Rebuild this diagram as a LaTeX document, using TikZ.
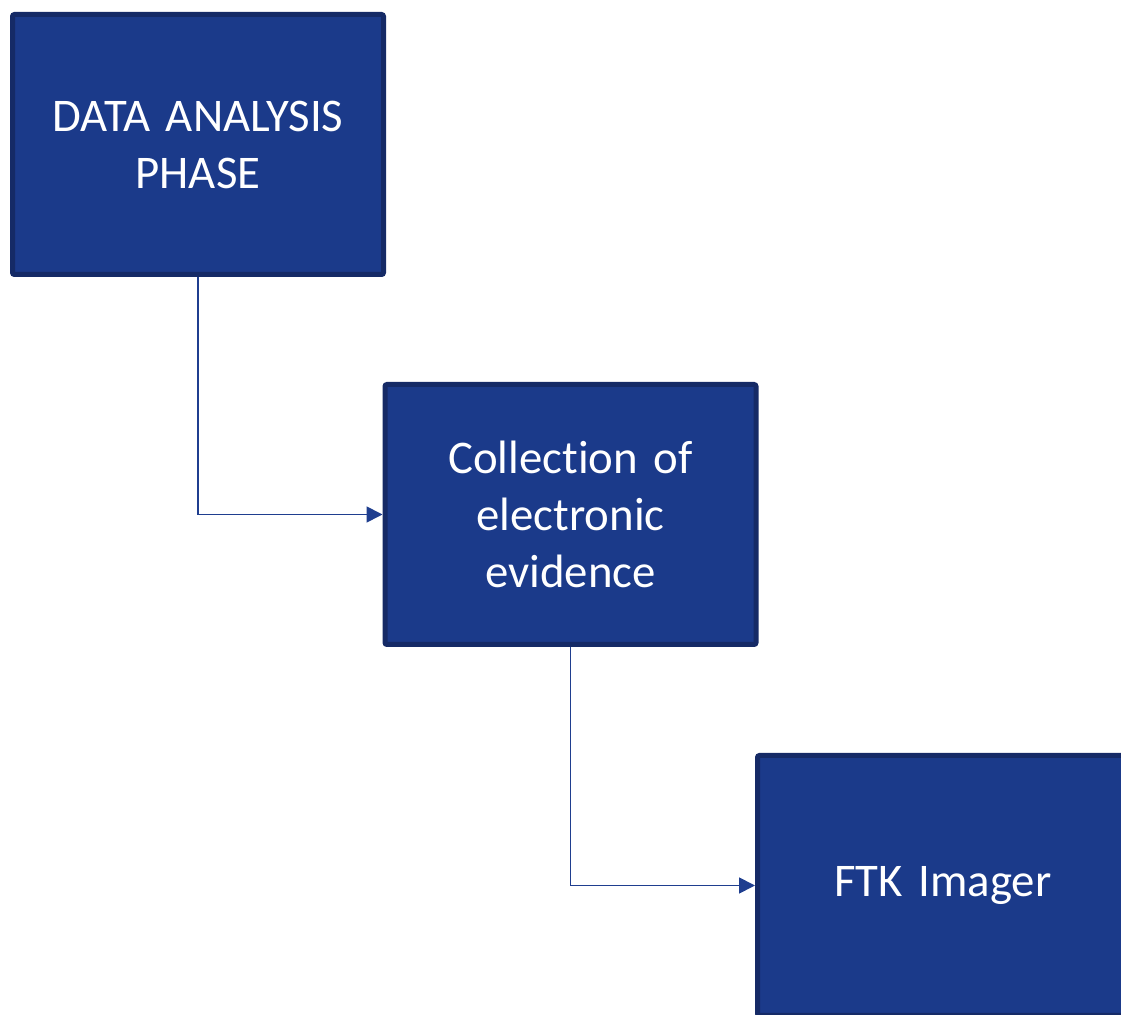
\documentclass[tikz,border=0pt]{standalone}
\usepackage{fontspec}
\setmainfont[Ligatures=NoCommon]{Carlito}
\usetikzlibrary{arrows.meta}
\definecolor{boxblue}{HTML}{1B3A8A}
\definecolor{boxedge}{HTML}{152A66}
\definecolor{linkblue}{HTML}{1F3E8F}
\tikzset{
  phase/.style={draw=boxedge, fill=boxblue, line width=2.5pt, rounded corners=1pt,
    minimum width=185.5pt, minimum height=130pt, text width=170pt, align=center,
    text=white, font=\fontsize{23.4}{28.5}\selectfont},
  link/.style={draw=linkblue, line width=.9pt, -{Triangle[length=8pt,width=8pt]}}
}
\begin{document}
\begin{tikzpicture}[x=.5pt, y=-.5pt]
	\useasboundingbox (0,0) rectangle (1121,1015);
	\clip (0,0) rectangle (1121,1015);
	\node[phase] (analysis)   at (198,144.5)  {DATA ANALYSIS\\PHASE};
	\node[phase] (collection) at (570.5,514.5) {Collection of\\electronic\\evidence};
	\node[phase] (ftk)        at (943,885.5)  {FTK Imager};
	%connectors
	\draw[link] (analysis.south) |- (collection.west);
	\draw[link] (collection.south) |- (ftk.west);
\end{tikzpicture}
\end{document}
